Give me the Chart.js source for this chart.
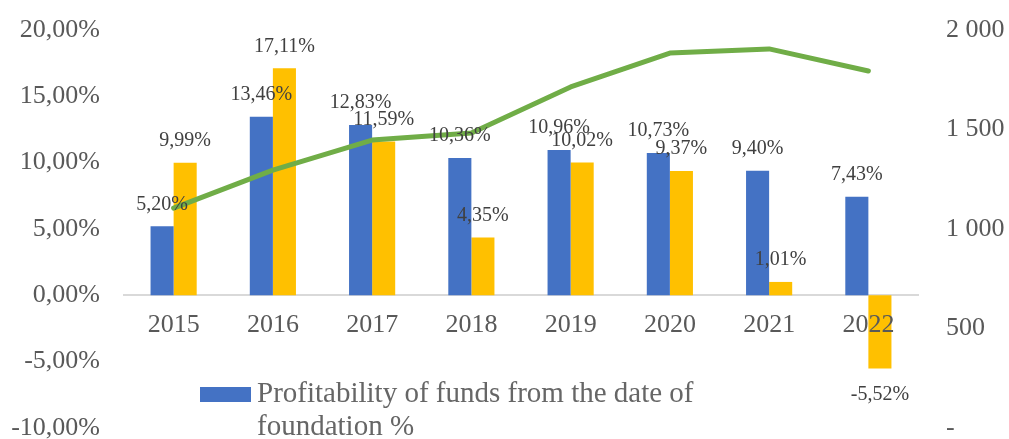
<!DOCTYPE html>
<html>
<head>
<meta charset="utf-8">
<script src="https://cdn.jsdelivr.net/npm/chart.js@4.4.1/dist/chart.umd.min.js"></script>
<style>
  html, body { margin: 0; padding: 0; background: #fff; }
  #wrap { width: 1009px; height: 439px; position: relative; }
</style>
</head>
<body>
<div id="wrap"><canvas id="grafico"></canvas></div>
<script>
const years = ['2015', '2016', '2017', '2018', '2019', '2020', '2021', '2022'];
const sinceFoundation = [5.20, 13.46, 12.83, 10.36, 10.96, 10.73, 9.40, 7.43];
const yearly = [9.99, 17.11, 11.59, 4.35, 10.02, 9.37, 1.01, -5.52];
const lineValues = [1105, 1296, 1447, 1482, 1714, 1884, 1905, 1794];
const leftTicks = [-10, -5, 0, 5, 10, 15, 20];
const rightTicks = [0, 500, 1000, 1500, 2000];

const FONT = "'Liberation Serif', 'Times New Roman', serif";

function pct(v) {
    return v.toFixed(2).replace('.', ',') + '%';
}

function miles(v) {
    if (v === 0) return '-';
    return String(v).replace(/\B(?=(\d{3})+(?!\d))/g, ' ');
}

// etiquetas de las barras (algunas movidas a mano como en el original)
const nudge = { '0-2': { dx: -3, dy: -14, leader: true }, '0-4': { dx: 13, dy: -3 } };

const etiquetas = {
    id: 'etiquetas',
    afterDatasetsDraw(chart) {
        const ctx = chart.ctx;
        ctx.save();
        ctx.font = '20px ' + FONT;
        ctx.fillStyle = '#404040';
        ctx.textAlign = 'center';
        ctx.textBaseline = 'middle';
        chart.data.datasets.forEach((ds, i) => {
            if (ds.type !== 'bar') return;
            chart.getDatasetMeta(i).data.forEach((bar, j) => {
                const v = ds.data[j];
                const n = nudge[i + '-' + j] || { dx: 0, dy: 0 };
                let x = bar.x + n.dx;
                let y = v >= 0 ? bar.y - 22 : bar.y + 26;
                y += n.dy;
                if (n.leader) {
                    ctx.strokeStyle = '#a6a6a6';
                    ctx.lineWidth = 1;
                    ctx.beginPath();
                    ctx.moveTo(x, y + 10);
                    ctx.lineTo(bar.x, bar.y);
                    ctx.stroke();
                }
                ctx.fillText(pct(v), x, y);
            });
        });
        ctx.restore();
    }
};

const leyenda = {
    id: 'leyenda',
    afterDraw(chart) {
        const ctx = chart.ctx;
        const ds = chart.data.datasets[1];
        ctx.save();
        ctx.fillStyle = ds.backgroundColor;
        ctx.fillRect(200, 387, 51, 15);
        ctx.font = '29px ' + FONT;
        ctx.fillStyle = '#666666';
        ctx.textAlign = 'left';
        ctx.textBaseline = 'alphabetic';
        // partir el texto en lineas
        const palabras = ds.label.split(' ');
        const lineas = [];
        let actual = '';
        palabras.forEach(p => {
            const prueba = actual ? actual + ' ' + p : p;
            if (ctx.measureText(prueba).width > 470 && actual) {
                lineas.push(actual);
                actual = p;
            } else {
                actual = prueba;
            }
        });
        lineas.push(actual);
        lineas.forEach((l, k) => ctx.fillText(l, 257, 402 + k * 33));
        ctx.restore();
    }
};

function sinPadding(scale) {
    scale.paddingTop = 0;
    scale.paddingBottom = 0;
}

const ctx = document.getElementById('grafico').getContext('2d');
const grafico = new Chart(ctx, {
    data: {
        labels: years,
        datasets: [
            {
                type: 'line',
                label: 'Number of participants',
                data: lineValues,
                yAxisID: 'y1',
                borderColor: '#70AD47',
                borderWidth: 5,
                borderCapStyle: 'round',
                borderJoinStyle: 'round',
                pointRadius: 0,
                tension: 0,
                order: 0
            },
            {
                type: 'bar',
                label: 'Profitability of funds from the date of foundation %',
                data: sinceFoundation,
                yAxisID: 'y',
                backgroundColor: '#4472C4',
                categoryPercentage: 0.465,
                barPercentage: 1,
                order: 1
            },
            {
                type: 'bar',
                label: 'Profitability of funds for the year %',
                data: yearly,
                yAxisID: 'y',
                backgroundColor: '#FFC000',
                categoryPercentage: 0.465,
                barPercentage: 1,
                order: 1
            }
        ]
    },
    options: {
        responsive: true,
        maintainAspectRatio: false,
        animation: false,
        layout: { padding: { top: 30, bottom: 11, left: 0, right: 0 } },
        plugins: {
            legend: { display: false },
            tooltip: { enabled: false }
        },
        scales: {
            x: {
                position: { y: 0 },
                grid: { display: false, drawTicks: false },
                border: { display: true, color: '#d9d9d9', width: 2 },
                ticks: {
                    color: '#595959',
                    font: { family: FONT, size: 26 },
                    padding: 14,
                    maxRotation: 0,
                    z: 1
                },
                afterFit(scale) {
                    scale.paddingLeft = 0;
                    scale.paddingRight = 0;
                }
            },
            y: {
                position: 'left',
                min: -10,
                max: 20,
                grid: { display: false, drawTicks: false },
                border: { display: false },
                afterBuildTicks(scale) {
                    scale.ticks = leftTicks.map(v => ({ value: v }));
                },
                ticks: {
                    color: '#595959',
                    font: { family: FONT, size: 26 },
                    padding: 24,
                    callback: v => pct(v)
                },
                afterFit(scale) {
                    scale.width = 124;
                    sinPadding(scale);
                }
            },
            y1: {
                position: 'right',
                min: 0,
                max: 2000,
                grid: { display: false, drawTicks: false },
                border: { display: false },
                afterBuildTicks(scale) {
                    scale.ticks = rightTicks.map(v => ({ value: v }));
                },
                ticks: {
                    color: '#595959',
                    font: { family: FONT, size: 26 },
                    padding: 28,
                    callback: v => miles(v)
                },
                afterFit(scale) {
                    scale.width = 91;
                    sinPadding(scale);
                }
            }
        }
    },
    plugins: [etiquetas, leyenda]
});
</script>
</body>
</html>
